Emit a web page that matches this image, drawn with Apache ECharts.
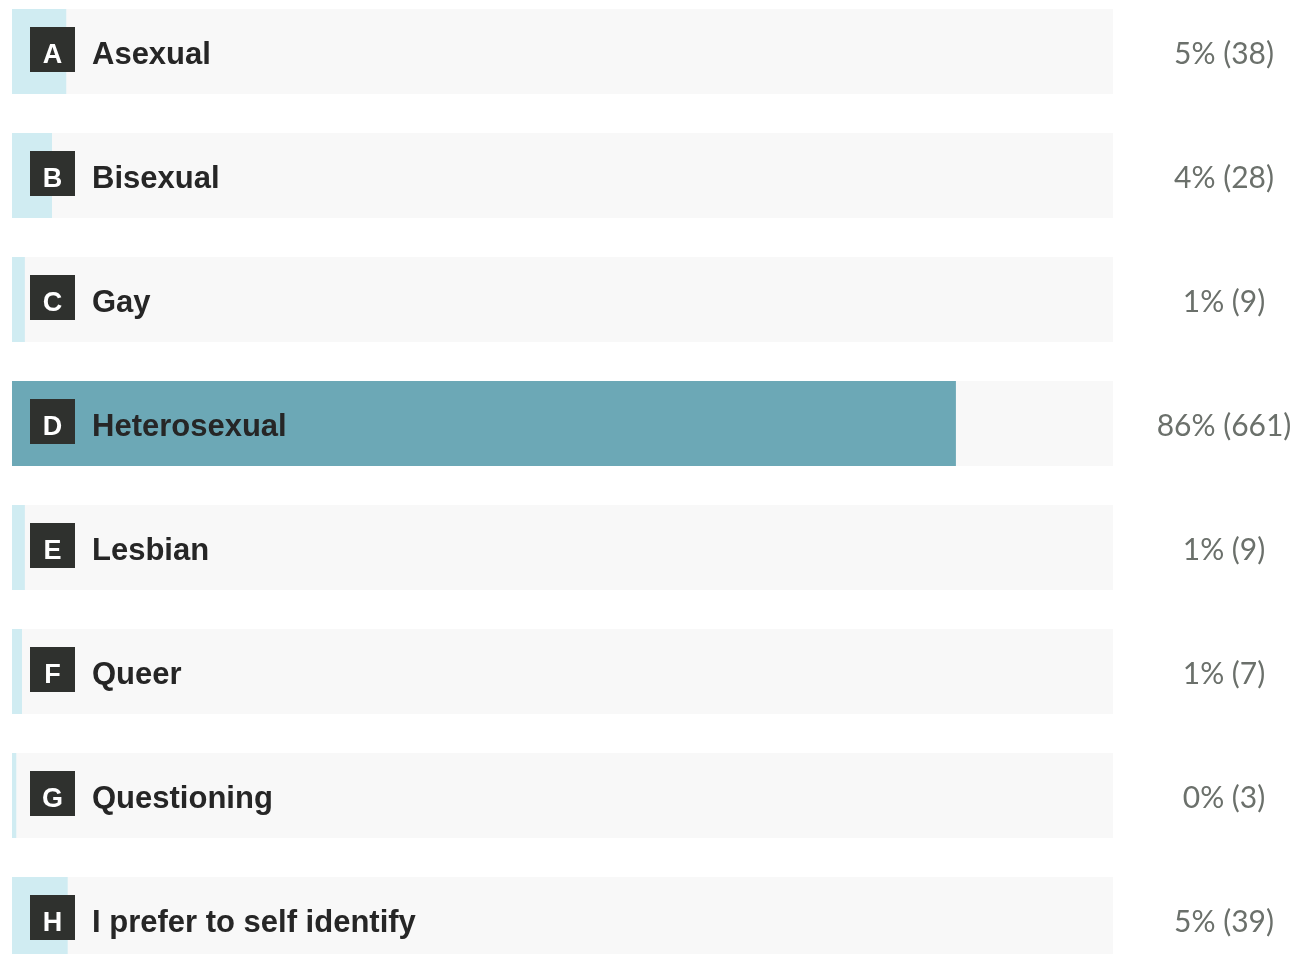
<!DOCTYPE html>
<html>
<head>
<meta charset="utf-8">
<script src="https://cdn.jsdelivr.net/npm/echarts@6/dist/echarts.min.js"></script>
<style>
html,body{margin:0;padding:0;background:#ffffff;}
#chart{width:1297px;height:954px;}
</style>
</head>
<body>
<div id="chart"></div>
<script>
const letters = ['A','B','C','D','E','F','G','H'];
const categories = ['Asexual','Bisexual','Gay','Heterosexual','Lesbian','Queer','Questioning','I prefer to self identify'];
const counts = [38, 28, 9, 661, 9, 7, 3, 39];
const percents = ['5%','4%','1%','86%','1%','1%','0%','5%'];
const totalRespondents = 771;
const highlightIndex = 3;

const chart = echarts.init(document.getElementById('chart'), null, {renderer:'canvas'});

const valueLabels = categories.map((c,i)=> percents[i] + ' (' + counts[i] + ')');

chart.setOption({
  animation:false,
  backgroundColor:'#ffffff',
  grid:{left:12, width:1101, top:-10.5, height:992, containLabel:false, outerBoundsMode:'none'},
  xAxis:{type:'value', min:0, max:totalRespondents, show:false},
  yAxis:[
    {type:'category', data:categories, inverse:true, show:false},
    {type:'category', data:valueLabels, inverse:true, position:'right',
     axisLine:{show:false}, axisTick:{show:false},
     axisLabel:{margin:111, align:'center', formatter:(v)=>'{v|'+v+'}',
       rich:{v:{fontFamily:'Lato', fontSize:30, color:'#6b706b', lineHeight:34, padding:[6,0,0,0]}}}}
  ],
  series:[
    {
      type:'bar', barWidth:85, yAxisIndex:0,
      data:counts.map((v,i)=>({value:v, itemStyle:{color: i===highlightIndex ? '#6ca8b6' : '#d0ecf2'}})),
      showBackground:true, backgroundStyle:{color:'#f8f8f8'},
      z:2
    },
    {
      type:'bar', barWidth:85, barGap:'-100%', yAxisIndex:0,
      data:categories.map(()=>totalRespondents),
      itemStyle:{color:'rgba(0,0,0,0)'},
      silent:true, z:3,
      label:{
        show:true, position:'insideLeft', distance:18, offset:[0,-2],
        formatter:(p)=>'{box|'+letters[p.dataIndex]+'}{txt|'+categories[p.dataIndex]+'}',
        rich:{
          box:{backgroundColor:'#2f312e', color:'#ffffff', width:45, height:33, lineHeight:33, padding:[12,0,0,0], align:'center', fontFamily:'Liberation Sans', fontWeight:'bold', fontSize:27},
          txt:{color:'#262626', fontFamily:'Liberation Sans', fontWeight:'bold', fontSize:31, lineHeight:34, padding:[12,0,0,17]}
        }
      }
    }
  ]
});
</script>
</body>
</html>
